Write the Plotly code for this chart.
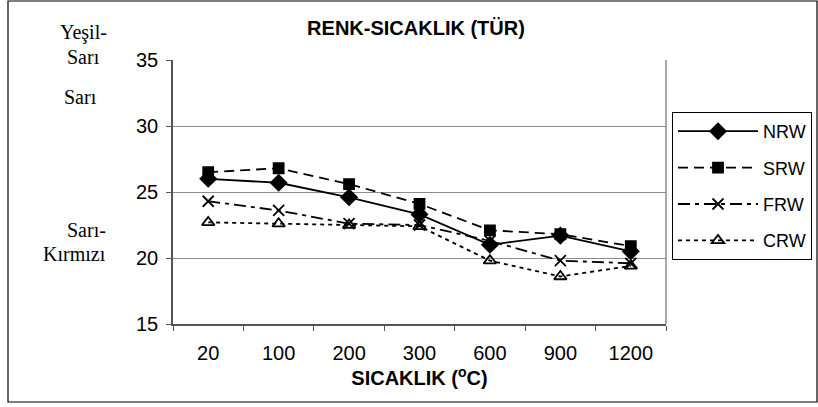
import plotly.graph_objects as go

# Temperature categories (°C) and colour-value series for each wood type
temperatures = ["20", "100", "200", "300", "600", "900", "1200"]
nrw = [26.0, 25.7, 24.6, 23.3, 21.0, 21.7, 20.5]
srw = [26.5, 26.8, 25.6, 24.1, 22.1, 21.8, 20.9]
frw = [24.3, 23.6, 22.6, 22.5, 21.3, 19.8, 19.6]
crw = [22.7, 22.6, 22.5, 22.4, 19.8, 18.6, 19.4]

series = [
    ("NRW", nrw, "diamond", "solid", 12),
    ("SRW", srw, "square", "10px,6px", 10),
    ("FRW", frw, "x-thin-open", "12px,5px,4px,5px", 11),
    ("CRW", crw, "triangle-up-open", "4px,4px", 11),
]

W, H = 818, 407
L, R, T, B = 173, 666, 60, 324  # plot area in pixels


def px(x):
    return (x - L) / (R - L)


def py(y):
    return (B - y) / (B - T)


fig = go.Figure()
for name, vals, sym, dash, size in series:
    fig.add_trace(go.Scatter(
        x=temperatures, y=vals, name=name, mode="lines+markers",
        legendgroup=name,
        line=dict(color="black", width=1.8, dash=dash),
        marker=dict(symbol=sym, size=size, color="black",
                    line=dict(color="black", width=1.8)),
    ))

sans = "Liberation Sans, Arial"
fig.update_layout(
    width=W, height=H,
    margin=dict(l=L, r=W - R, t=T, b=H - B, autoexpand=False),
    paper_bgcolor="white", plot_bgcolor="white",
    font=dict(family=sans, color="black"),
    title=dict(text="<b>RENK-SICAKLIK (TÜR)</b>", x=px(416), xref="paper",
               xanchor="center", y=1 - 28 / H, yanchor="middle",
               font=dict(size=20, color="black")),
    showlegend=True,
    legend=dict(x=px(672), y=py(112), xanchor="left", yanchor="top",
                bordercolor="black", borderwidth=1, bgcolor="white",
                font=dict(size=18, color="black"), tracegroupgap=10,
                itemwidth=80),
    xaxis=dict(
        type="category", range=[-0.5, 6.5], tickson="boundaries",
        ticks="outside", ticklen=5, tickcolor="#555555",
        showline=True, linecolor="#555555", linewidth=1.5,
        showgrid=False, tickfont=dict(size=20), ticklabelstandoff=10,
        title=dict(text="<b>SICAKLIK (<sup>o</sup>C)</b>",
                   font=dict(size=20), standoff=4),
    ),
    yaxis=dict(
        range=[15, 35], dtick=5, tick0=15, ticks="outside", ticklen=5,
        tickcolor="#555555", showline=True, linecolor="#555555",
        linewidth=1.5, showgrid=True, gridcolor="#8c8c8c", gridwidth=1,
        zeroline=False, tickfont=dict(size=20), ticklabelstandoff=4,
    ),
)

# Gray frame on the right side of the plot area
fig.add_shape(type="line", xref="paper", yref="paper", x0=1, x1=1, y0=0, y1=1,
              line=dict(color="#8c8c8c", width=1.5))
# Outer chart border
fig.add_shape(type="rect", xref="paper", yref="paper",
              x0=px(8), x1=px(817), y0=py(402), y1=py(1),
              line=dict(color="black", width=1.2), layer="below")

# Colour names beside the value axis
serif = dict(family="Liberation Serif, Times New Roman", size=20, color="black")
labels = [("Yeşil-", 83, 32, "center"), ("Sarı", 83, 57, "center"),
          ("Sarı", 80, 97, "center"), ("Sarı-", 108, 230, "right"),
          ("Kırmızı", 108, 254, "right")]
for text, x, y, anchor in labels:
    fig.add_annotation(text=text, xref="paper", yref="paper", x=px(x), y=py(y),
                       xanchor=anchor, yanchor="middle", showarrow=False,
                       font=serif)

fig.write_html("out.html")
